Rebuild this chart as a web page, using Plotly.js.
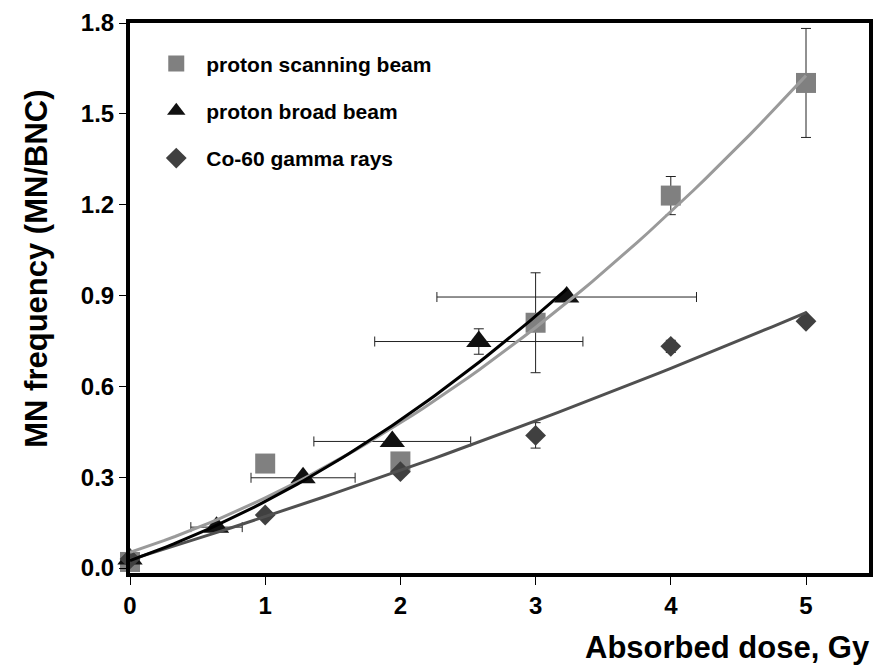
<!DOCTYPE html>
<html>
<head>
<meta charset="utf-8">
<script src="https://cdn.plot.ly/plotly-3.0.1.min.js"></script>
<style>html,body{margin:0;padding:0;background:#fff;}#chart{width:875px;height:665px;}</style>
</head>
<body>
<div id="chart"></div>
<script>
// ---- data ----
var scanDose = [0, 1, 2, 3, 4, 5];
var scanMN   = [0.02, 0.345, 0.352, 0.81, 1.23, 1.602];
var scanErrY = [0, 0, 0, 0.165, 0.063, 0.18];

var broadDose  = [0, 0.64, 1.28, 1.94, 2.58, 3.23];
var broadMN    = [0.03, 0.135, 0.298, 0.418, 0.748, 0.895];
var broadErrX  = [0, 0.19, 0.385, 0.58, 0.77, 0.96];
var broadErrY  = [0, 0, 0, 0, 0.042, 0.01];

var gammaDose = [0, 1, 2, 3, 4, 5];
var gammaMN   = [0.03, 0.175, 0.318, 0.438, 0.732, 0.815];
var gammaErrY = [0, 0.005, 0.005, 0.042, 0.02, 0.005];

var seriesNames = ["proton scanning beam", "proton broad beam", "Co-60 gamma rays"];
var xTickVals = [0, 1, 2, 3, 4, 5];
var yTickVals = [0, 0.3, 0.6, 0.9, 1.2, 1.5, 1.8];
var yTickText = ["0.0", "0.3", "0.6", "0.9", "1.2", "1.5", "1.8"];

// ---- second-order polynomial trendline (least squares) ----
function polyfit2(xs, ys) {
  var n = xs.length, s = [0,0,0,0,0], t = [0,0,0];
  for (var i = 0; i < n; i++) {
    var x = xs[i], y = ys[i], p = 1;
    for (var k = 0; k < 5; k++) { s[k] += p; if (k < 3) t[k] += p * y; p *= x; }
  }
  var A = [[s[0], s[1], s[2], t[0]], [s[1], s[2], s[3], t[1]], [s[2], s[3], s[4], t[2]]];
  for (var c = 0; c < 3; c++) {
    var piv = c;
    for (var r = c + 1; r < 3; r++) if (Math.abs(A[r][c]) > Math.abs(A[piv][c])) piv = r;
    var tmp = A[c]; A[c] = A[piv]; A[piv] = tmp;
    for (var r2 = 0; r2 < 3; r2++) {
      if (r2 === c) continue;
      var f = A[r2][c] / A[c][c];
      for (var k2 = c; k2 < 4; k2++) A[r2][k2] -= f * A[c][k2];
    }
  }
  return [A[0][3] / A[0][0], A[1][3] / A[1][1], A[2][3] / A[2][2]];
}
function trend(xs, ys) {
  var c = polyfit2(xs, ys), x0 = Math.min.apply(null, xs), x1 = Math.max.apply(null, xs);
  var X = [], Y = [];
  for (var i = 0; i <= 60; i++) { var x = x0 + (x1 - x0) * i / 60; X.push(x); Y.push(c[0] + c[1] * x + c[2] * x * x); }
  return {x: X, y: Y};
}
var tScan = trend(scanDose, scanMN), tBroad = trend(broadDose, broadMN), tGamma = trend(gammaDose, gammaMN);

var FONT = "Liberation Sans, Arial, sans-serif";
var errStyle = {type: "data", symmetric: true, color: "#222", thickness: 1, width: 5};

var traces = [
  {x: scanDose, y: scanMN, name: seriesNames[0], mode: "markers", type: "scatter", cliponaxis: false,
   legendgroup: "a",
   marker: {symbol: "square", size: 20, color: "#808080"},
   error_y: Object.assign({array: scanErrY}, errStyle)},
  {x: broadDose, y: broadMN, name: seriesNames[1], mode: "markers", type: "scatter", cliponaxis: false,
   legendgroup: "b",
   marker: {symbol: "triangle-up", size: 22, color: "#111"},
   error_x: Object.assign({array: broadErrX}, errStyle),
   error_y: Object.assign({array: broadErrY}, errStyle)},
  {x: gammaDose, y: gammaMN, name: seriesNames[2], mode: "markers", type: "scatter", cliponaxis: false,
   legendgroup: "c",
   marker: {symbol: "diamond", size: 16, color: "#404040"},
   error_y: Object.assign({array: gammaErrY}, errStyle)},
  {x: tScan.x, y: tScan.y, mode: "lines", type: "scatter", showlegend: false, hoverinfo: "skip", cliponaxis: false,
   line: {color: "#9a9a9a", width: 3}},
  {x: tGamma.x, y: tGamma.y, mode: "lines", type: "scatter", showlegend: false, hoverinfo: "skip", cliponaxis: false,
   line: {color: "#505050", width: 3}},
  {x: tBroad.x, y: tBroad.y, mode: "lines", type: "scatter", showlegend: false, hoverinfo: "skip", cliponaxis: false,
   line: {color: "#000", width: 3}}
];

var layout = {
  width: 875, height: 665,
  margin: {l: 130, r: 6, t: 23, b: 92},
  paper_bgcolor: "#fff", plot_bgcolor: "#fff",
  font: {family: FONT, color: "#000"},
  showlegend: true,
  legend: {x: 0.022, y: 0.963, xanchor: "left", yanchor: "top", bgcolor: "rgba(0,0,0,0)",
           font: {family: FONT, size: 21, weight: "bold", color: "#000"},
           traceorder: "grouped", tracegroupgap: 17, itemwidth: 50},
  xaxis: {range: [0, 5.466], tickvals: xTickVals, ticks: "outside", ticklen: 8, tickwidth: 1, tickcolor: "#000",
          showline: true, linewidth: 4, linecolor: "#000", mirror: true, showgrid: false, zeroline: false,
          tickfont: {family: FONT, size: 24, weight: "bold", color: "#000"}},
  yaxis: {range: [-0.0165, 1.8], tickvals: yTickVals, ticktext: yTickText, ticks: "outside", ticklen: 7, tickwidth: 1,
          tickcolor: "#000", showline: true, linewidth: 4, linecolor: "#000", mirror: true, showgrid: false, zeroline: false,
          tickfont: {family: FONT, size: 24, weight: "bold", color: "#000"}},
  annotations: [
    {text: "Absorbed dose, Gy", xref: "paper", yref: "paper", x: 1.004, y: -0.135, xanchor: "right", yanchor: "middle",
     showarrow: false, font: {family: FONT, size: 31, weight: "bold", color: "#000"}},
    {text: "MN frequency (MN/BNC)", xref: "paper", yref: "paper", x: -0.126, y: 0.553, xanchor: "center", yanchor: "middle",
     textangle: -90, showarrow: false, font: {family: FONT, size: 31, weight: "bold", color: "#000"}}
  ]
};

Plotly.newPlot("chart", traces, layout, {displayModeBar: false, staticPlot: true});
</script>
</body>
</html>
